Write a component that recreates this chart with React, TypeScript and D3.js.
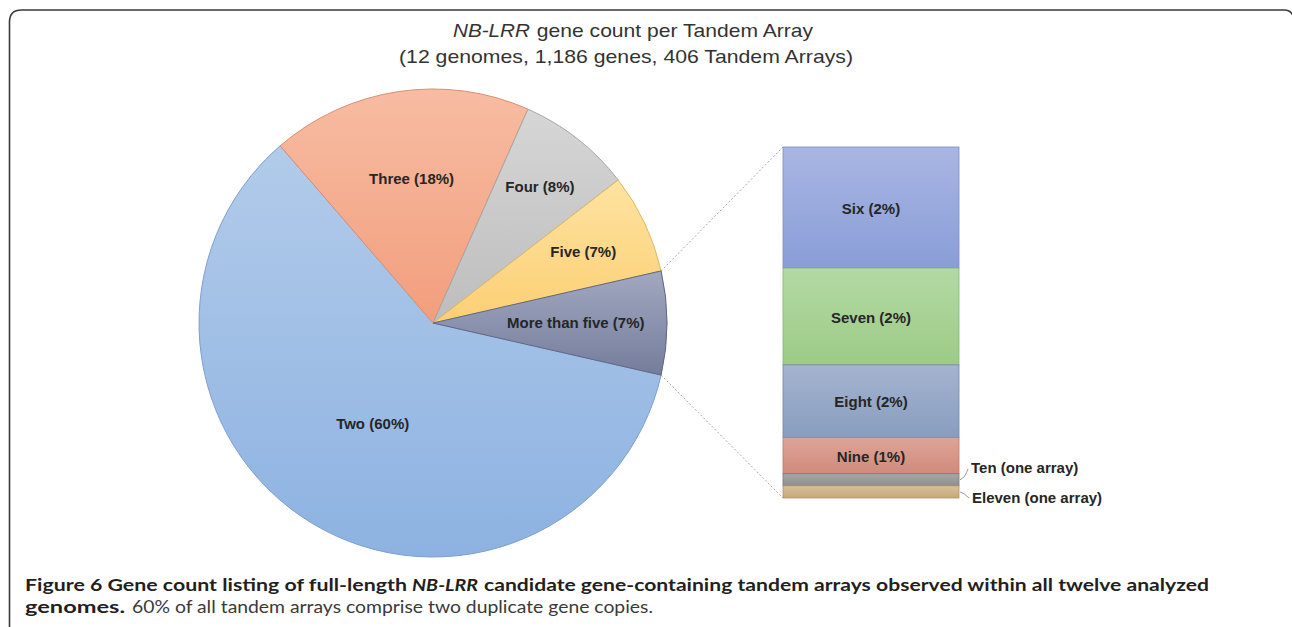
import React from 'react';
import * as d3 from 'd3';

// ---------- data ----------
const pieCategories = ['Two', 'Three', 'Four', 'Five', 'More than five'];
const pieCounts = [244, 73, 32, 28, 29];
const pieLabels = ['Two (60%)', 'Three (18%)', 'Four (8%)', 'Five (7%)', 'More than five (7%)'];

const barCategories = ['Six', 'Seven', 'Eight', 'Nine', 'Ten', 'Eleven'];
const barCounts = [10, 8, 6, 3, 1, 1];
const barLabels = ['Six (2%)', 'Seven (2%)', 'Eight (2%)', 'Nine (1%)', 'Ten (one array)', 'Eleven (one array)'];

const titleItalic = 'NB-LRR';
const titleRest = ' gene count per Tandem Array';
const titleLine2 = '(12 genomes, 1,186 genes, 406 Tandem Arrays)';

// ---------- styles / layout ----------
const pieColors: [string, string, string][] = [
  ['#b2cbea', '#8db2e1', '#7f9fcd'],
  ['#f7bca2', '#f29e7d', '#d99075'],
  ['#d6d6d6', '#bdbdbd', '#a5a5a5'],
  ['#fee3a0', '#fccf74', '#e0b865'],
  ['#a2a8c0', '#757d9c', '#5f6787'],
];
const barColors: [string, string, string][] = [
  ['#a9b6e3', '#899dd7', '#7b8dc4'],
  ['#b3d9a4', '#9dcb87', '#86b672'],
  ['#a5b4cf', '#889dbf', '#7386a8'],
  ['#dda597', '#d08a7b', '#b97a6d'],
  ['#a8a8a8', '#8e8e8e', '#7a7a7a'],
  ['#d8c09a', '#c7a87a', '#b09468'],
];
const labelRadiusRatio = [0.5, 0.625, 0.74, 0.71, 0.61];

const W = 1292;
const H = 627;
const cx = 433;
const cy = 323;
const R = 234;
const barX0 = 783;
const barX1 = 959;
const barTop = 147;
const barBottom = 498;

export default function App() {
  const total = d3.sum(pieCounts);
  const otherShare = pieCounts[pieCounts.length - 1] / total;
  const start = Math.PI / 2 + otherShare * Math.PI;
  const pie = d3
    .pie<number>()
    .sort(null)
    .value((d) => d)
    .startAngle(start)
    .endAngle(start + 2 * Math.PI);
  const arcs = pie(pieCounts);
  const arcGen = d3.arc<d3.PieArcDatum<number>>().innerRadius(0).outerRadius(R);

  const barTotal = d3.sum(barCounts);
  const y = d3.scaleLinear().domain([0, barTotal]).range([barBottom, barTop]);
  // stack from top: first category at top
  let cum = barTotal;
  const segs = barCounts.map((c, i) => {
    const top = y(cum);
    const bottom = y(cum - c);
    cum -= c;
    return { i, top, bottom };
  });

  const other = arcs[arcs.length - 1];
  const pt = (a: number) => [cx + R * Math.sin(a), cy - R * Math.cos(a)];
  const [p1x, p1y] = pt(other.startAngle);
  const [p2x, p2y] = pt(other.endAngle);

  const tenSeg = segs[4];
  const elevenSeg = segs[5];
  const tenMid = (tenSeg.top + tenSeg.bottom) / 2;
  const elevenMid = (elevenSeg.top + elevenSeg.bottom) / 2;

  const labelFont = "'Liberation Sans', Arial, sans-serif";
  const capFont = "Lato, 'Open Sans', sans-serif";

  return (
    <svg
      width={W}
      height={H}
      style={{ position: 'absolute', left: 0, top: 0, background: '#fff' }}
      xmlns="http://www.w3.org/2000/svg"
    >
      <defs>
        {pieColors.map((c, i) => (
          <linearGradient key={'pg' + i} id={'pg' + i} x1="0" y1="0" x2="0" y2="1">
            <stop offset="0" stopColor={c[0]} />
            <stop offset="1" stopColor={c[1]} />
          </linearGradient>
        ))}
        {barColors.map((c, i) => (
          <linearGradient key={'bg' + i} id={'bg' + i} x1="0" y1="0" x2="0" y2="1">
            <stop offset="0" stopColor={c[0]} />
            <stop offset="1" stopColor={c[1]} />
          </linearGradient>
        ))}
      </defs>
      <rect width={W} height={H} fill="#fff" />

      {/* frame */}
      <path
        d="M9.5,640 L9.5,22 Q9.5,10 21.5,10 L1284,10 Q1291,10 1293,16"
        fill="none"
        stroke="#3a3a3a"
        strokeWidth={1.6}
      />

      {/* title */}
      <g fontFamily={labelFont} fill="#333" fontSize={19}>
        <text x={453} y={37} textLength={77} lengthAdjust="spacingAndGlyphs" fontStyle="italic">
          {titleItalic}
        </text>
        <text x={531} y={37} textLength={282} lengthAdjust="spacingAndGlyphs" style={{ whiteSpace: 'pre' }}>
          {titleRest}
        </text>
        <text x={399} y={63} textLength={454} lengthAdjust="spacingAndGlyphs">
          {titleLine2}
        </text>
      </g>

      {/* connectors */}
      <line x1={p1x} y1={p1y} x2={barX0} y2={barTop} stroke="#a8a8a8" strokeWidth={1} strokeDasharray="2,2" />
      <line x1={p2x} y1={p2y} x2={barX0} y2={barBottom} stroke="#a8a8a8" strokeWidth={1} strokeDasharray="2,2" />

      {/* pie */}
      <g transform={`translate(${cx},${cy})`}>
        {arcs.map((a, i) => (
          <path
            key={pieCategories[i]}
            d={arcGen(a) || ''}
            fill={`url(#pg${i})`}
            stroke={pieColors[i][2]}
            strokeWidth={1}
          />
        ))}
        {arcs.map((a, i) => {
          const rr = labelRadiusRatio[i] * R;
          const c = d3.arc<d3.PieArcDatum<number>>().innerRadius(rr).outerRadius(rr).centroid(a);
          return (
            <text
              key={'l' + i}
              x={c[0]}
              y={c[1]}
              dy="0.35em"
              textAnchor="middle"
              fontFamily={labelFont}
              fontWeight="bold"
              fontSize={15}
              fill="#262626"
            >
              {pieLabels[i]}
            </text>
          );
        })}
      </g>

      {/* bar of pie */}
      {segs.map((s) => (
        <rect
          key={barCategories[s.i]}
          x={barX0}
          y={s.top}
          width={barX1 - barX0}
          height={s.bottom - s.top}
          fill={`url(#bg${s.i})`}
          stroke={barColors[s.i][2]}
          strokeWidth={0.8}
        />
      ))}
      {segs.slice(0, 4).map((s) => (
        <text
          key={'bl' + s.i}
          x={(barX0 + barX1) / 2}
          y={(s.top + s.bottom) / 2 + 1}
          dy="0.35em"
          textAnchor="middle"
          fontFamily={labelFont}
          fontWeight="bold"
          fontSize={15}
          fill="#262626"
        >
          {barLabels[s.i]}
        </text>
      ))}
      {/* leaders for small segments */}
      <path
        d={`M${barX1 + 1},${tenMid} Q${barX1 + 6},${tenMid - 2} ${barX1 + 9},${tenMid - 11}`}
        fill="none"
        stroke="#9a9a9a"
        strokeWidth={1}
      />
      <path
        d={`M${barX1 + 1},${elevenMid} Q${barX1 + 5},${elevenMid + 1} ${barX1 + 10},${elevenMid + 6}`}
        fill="none"
        stroke="#9a9a9a"
        strokeWidth={1}
      />
      <text x={barX1 + 12} y={tenMid - 7} fontFamily={labelFont} fontWeight="bold" fontSize={15} fill="#262626">
        {barLabels[4]}
      </text>
      <text x={barX1 + 13} y={elevenMid + 11} fontFamily={labelFont} fontWeight="bold" fontSize={15} fill="#262626">
        {barLabels[5]}
      </text>

      {/* caption */}
      <g fontFamily={capFont} fontSize={17.5} fill="#231f20">
        <text x={25} y={591} fontWeight="bold" textLength={382} lengthAdjust="spacingAndGlyphs">
          Figure 6 Gene count listing of full-length
        </text>
        <text x={412} y={591} fontWeight="bold" fontStyle="italic" textLength={66} lengthAdjust="spacingAndGlyphs">
          NB-LRR
        </text>
        <text x={484} y={591} fontWeight="bold" textLength={725} lengthAdjust="spacingAndGlyphs">
          candidate gene-containing tandem arrays observed within all twelve analyzed
        </text>
        <text x={25} y={613} fontWeight="bold" textLength={100} lengthAdjust="spacingAndGlyphs">
          genomes.
        </text>
        <text x={132} y={613} fill="#3a3a3a" textLength={521} lengthAdjust="spacingAndGlyphs">
          60% of all tandem arrays comprise two duplicate gene copies.
        </text>
      </g>
    </svg>
  );
}
